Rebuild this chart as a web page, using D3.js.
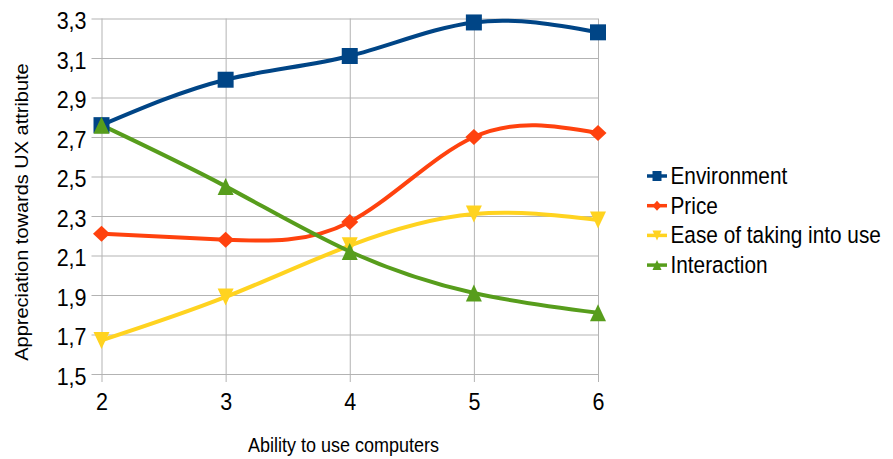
<!DOCTYPE html>
<html>
<head>
<meta charset="utf-8">
<script src="https://cdn.jsdelivr.net/npm/d3@7"></script>
<style>
  html, body { margin: 0; padding: 0; background: #fff; }
  text { font-family: "Liberation Sans", Arial, sans-serif; fill: #000; }
</style>
</head>
<body>
<svg id="chart" width="893" height="459"></svg>
<script>
// Ability level on the x axis
const abilityLevels = [2, 3, 4, 5, 6];

// Mean appreciation per UX attribute
const environment = [2.76, 2.99, 3.11, 3.28, 3.23];
const price       = [2.21, 2.18, 2.27, 2.70, 2.72];
const easeOfUse   = [1.67, 1.89, 2.15, 2.31, 2.28];
const interaction = [2.76, 2.45, 2.12, 1.91, 1.81];

const seriesNames = ["Environment", "Price", "Ease of taking into use", "Interaction"];
const yTicks = [1.5, 1.7, 1.9, 2.1, 2.3, 2.5, 2.7, 2.9, 3.1, 3.3];

const series = [
  { name: seriesNames[0], values: environment, color: "#004586", symbol: "square" },
  { name: seriesNames[1], values: price,       color: "#ff420e", symbol: "diamond" },
  { name: seriesNames[2], values: easeOfUse,   color: "#ffd320", symbol: "down" },
  { name: seriesNames[3], values: interaction, color: "#579d1c", symbol: "up" }
];

// Glyphs are drawn slightly taller than wide
const STRETCH = 1.11;

const svg = d3.select("#chart");
const plot = { left: 101.5, right: 598, top: 18.5, bottom: 374 };

const x = d3.scaleLinear().domain([2, 6]).range([plot.left, plot.right]);
const y = d3.scaleLinear().domain([1.5, 3.3]).range([plot.bottom, plot.top]);

const fmt = v => d3.format(".1f")(v).replace(".", ",");

// Horizontal grid lines
const gridY = svg.append("g").attr("transform", `translate(${plot.right},0)`)
  .call(d3.axisLeft(y).tickValues(yTicks).tickFormat("")
    .tickSizeInner(plot.right - plot.left + 10).tickSizeOuter(0));
gridY.select(".domain").remove();
gridY.selectAll(".tick line").attr("stroke", "#b3b3b3");

// Vertical grid lines
const gridX = svg.append("g").attr("transform", `translate(0,${plot.top})`)
  .call(d3.axisBottom(x).tickValues(abilityLevels).tickFormat("")
    .tickSizeInner(plot.bottom - plot.top + 8).tickSizeOuter(0));
gridX.select(".domain").remove();
gridX.selectAll(".tick line").attr("stroke", "#b3b3b3");

// Tick labels (y)
const labY = svg.append("g").attr("transform", `translate(${plot.left},0)`)
  .call(d3.axisLeft(y).tickValues(yTicks).tickFormat(fmt).tickSize(0).tickPadding(15));
labY.select(".domain").remove();
labY.selectAll(".tick text")
  .style("font-size", "21.5px")
  .attr("dy", null)
  .attr("transform", `translate(0,10) scale(1,${STRETCH})`);

// Tick labels (x)
const labX = svg.append("g").attr("transform", `translate(0,${plot.bottom})`)
  .call(d3.axisBottom(x).tickValues(abilityLevels).tickFormat(d3.format("d")).tickSize(0));
labX.select(".domain").remove();
labX.selectAll(".tick text")
  .style("font-size", "21.5px")
  .attr("y", 0).attr("dy", null)
  .attr("transform", `translate(0,36) scale(1,${STRETCH})`);

// Axis titles
svg.append("text")
  .attr("transform", `translate(343.5,452) scale(1,${STRETCH})`)
  .attr("text-anchor", "middle")
  .style("font-size", "18px")
  .text("Ability to use computers");

svg.append("text")
  .attr("transform", `translate(28,212) rotate(-90) scale(${STRETCH},1)`)
  .attr("text-anchor", "middle")
  .style("font-size", "18px")
  .text("Appreciation towards UX attribute");

function symbolPath(kind, w, h) {
  const a = w / 2, b = h / 2;
  switch (kind) {
    case "square":  return `M${-a},${-b}H${a}V${b}H${-a}Z`;
    case "diamond": return `M0,${-b}L${a},0L0,${b}L${-a},0Z`;
    case "down":    return `M${-a},${-b}H${a}L0,${b}Z`;
    case "up":      return `M${-a},${b}H${a}L0,${-b}Z`;
  }
}

const line = d3.line()
  .x((d, i) => x(abilityLevels[i]))
  .y(d => y(d))
  .curve(d3.curveNatural);

const lines = svg.append("g");
series.forEach(s => {
  lines.append("path")
    .attr("d", line(s.values))
    .attr("fill", "none")
    .attr("stroke", s.color)
    .attr("stroke-width", 4)
    .attr("stroke-linejoin", "round");
});

const markerSize = {
  square: [16, 16], diamond: [17, 16], down: [16, 17], up: [16, 17]
};
series.forEach(s => {
  const [w, h] = markerSize[s.symbol];
  lines.append("g").selectAll("path")
    .data(s.values)
    .join("path")
    .attr("transform", (d, i) => `translate(${x(abilityLevels[i])},${y(d)})`)
    .attr("d", symbolPath(s.symbol, w, h))
    .attr("fill", s.color);
});

// Legend
const legend = svg.append("g").attr("transform", "translate(647,176)");
series.forEach((s, i) => {
  const row = legend.append("g").attr("transform", `translate(0,${i * 29.7})`);
  row.append("line").attr("x1", 0).attr("x2", 20).attr("y1", 0).attr("y2", 0)
    .attr("stroke", s.color).attr("stroke-width", 3.5);
  row.append("path").attr("transform", "translate(10,0)")
    .attr("d", symbolPath(s.symbol, 9, 10)).attr("fill", s.color);
  row.append("text")
    .attr("transform", `translate(23.5,8) scale(1,${STRETCH})`)
    .style("font-size", "20.8px")
    .text(s.name);
});
</script>
</body>
</html>
